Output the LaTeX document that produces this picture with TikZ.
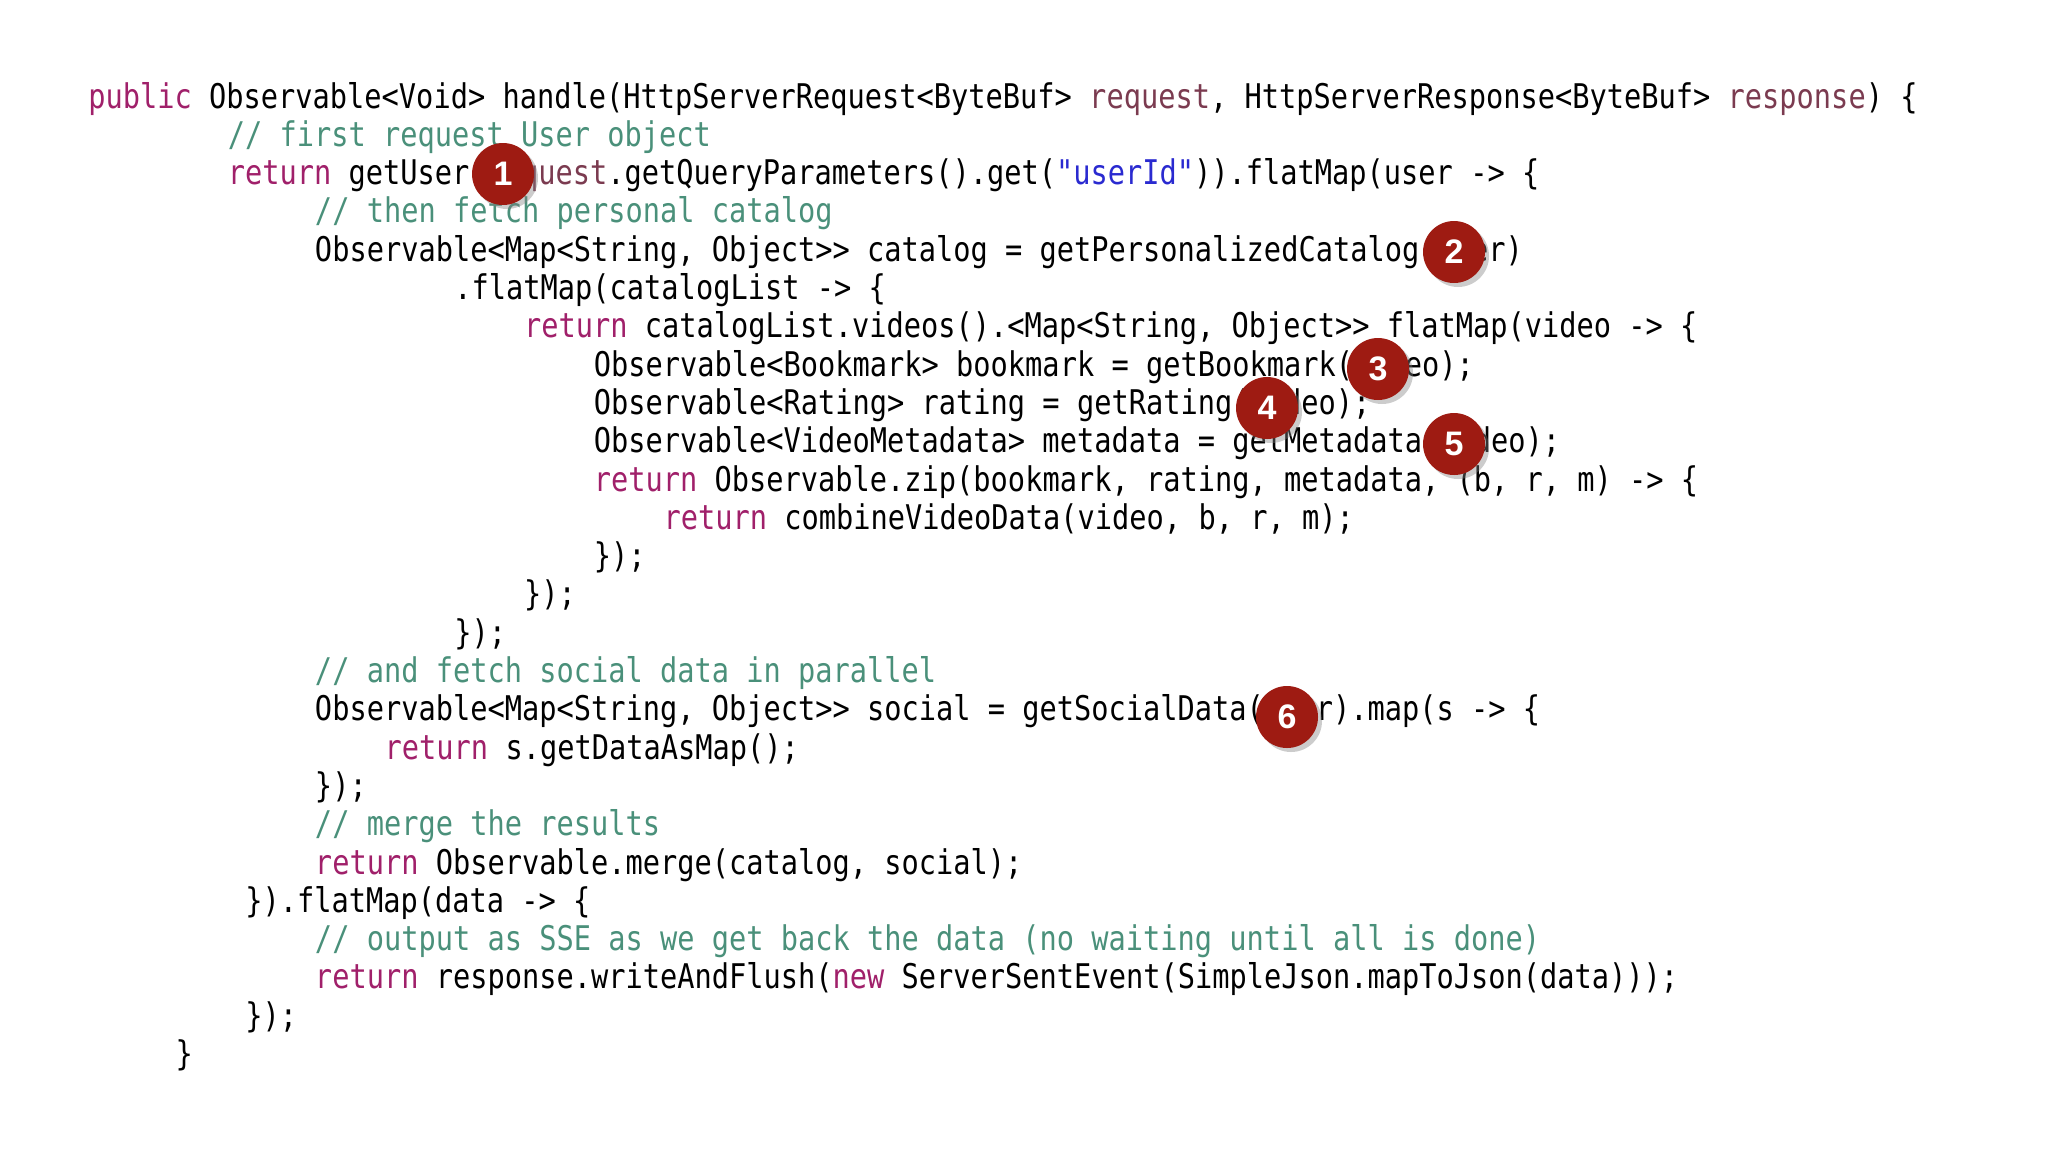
\documentclass[tikz,border=0pt]{standalone}
\usepackage{fontspec}
\usetikzlibrary{shadows}
\newfontfamily\codefont[FakeStretch=0.843]{DejaVu Sans Mono}
\setsansfont{Liberation Sans}
\definecolor{kwc}{HTML}{A0206A}
\definecolor{cmc}{HTML}{4A907A}
\definecolor{pac}{HTML}{7B3B50}
\definecolor{stc}{HTML}{2A2AD0}
\definecolor{badge}{HTML}{9E1B12}
\newcommand\kw[1]{\textcolor{kwc}{#1}}
\newcommand\cm[1]{\textcolor{cmc}{#1}}
\newcommand\pa[1]{\textcolor{pac}{#1}}
\newcommand\st[1]{\textcolor{stc}{#1}}
\tikzset{codeline/.style={anchor=base west,inner sep=0pt,font=\codefont\fontsize{17pt}{20pt}\selectfont},
badgec/.style={circle,fill=badge,minimum size=31pt,inner sep=0pt,text=white,font=\sffamily\bfseries\fontsize{17pt}{20pt}\selectfont,drop shadow={opacity=0.4,shadow xshift=2pt,shadow yshift=-2pt}}}
\begin{document}
\begin{tikzpicture}[x=0.5pt,y=-0.5pt]
\useasboundingbox (0,0) rectangle (2048,1152);
\foreach \i/\ind/\txt in {
0/0/{\kw{public} Observable<Void> handle(HttpServerRequest<ByteBuf> \pa{request}, HttpServerResponse<ByteBuf> \pa{response}) \{},
1/8/{\cm{// first request User object}},
2/8/{\kw{return} getUser(\pa{request}.getQueryParameters().get(\st{"userId"})).flatMap(user -> \{},
3/13/{\cm{// then fetch personal catalog}},
4/13/{Observable<Map<String, Object>{}> catalog = getPersonalizedCatalog(user)},
5/21/{.flatMap(catalogList -> \{},
6/25/{\kw{return} catalogList.videos().<Map<String, Object>{}> flatMap(video -> \{},
7/29/{Observable<Bookmark> bookmark = getBookmark(video);},
8/29/{Observable<Rating> rating = getRating(video);},
9/29/{Observable<VideoMetadata> metadata = getMetadata(video);},
10/29/{\kw{return} Observable.zip(bookmark, rating, metadata, (b, r, m) -> \{},
11/33/{\kw{return} combineVideoData(video, b, r, m);},
12/29/{\});},
13/25/{\});},
14/21/{\});},
15/13/{\cm{// and fetch social data in parallel}},
16/13/{Observable<Map<String, Object>{}> social = getSocialData(user).map(s -> \{},
17/17/{\kw{return} s.getDataAsMap();},
18/13/{\});},
19/13/{\cm{// merge the results}},
20/13/{\kw{return} Observable.merge(catalog, social);},
21/9/{\}).flatMap(data -> \{},
22/13/{\cm{// output as SSE as we get back the data (no waiting until all is done)}},
23/13/{\kw{return} response.writeAndFlush(\kw{new} ServerSentEvent(SimpleJson.mapToJson(data)));},
24/9/{\});},
25/5/{\}}}
  \node[codeline] (l\i) at ({88+17.43*\ind},{108+38.3*\i}) {\txt};
\node[badgec] (b1) at (503,174) {1};
\node[badgec] (b2) at (1454,252) {2};
\node[badgec] (b3) at (1378,369) {3};
\node[badgec] (b4) at (1267,408) {4};
\node[badgec] (b5) at (1454,444) {5};
\node[badgec] (b6) at (1287,717) {6};
\end{tikzpicture}
\end{document}
